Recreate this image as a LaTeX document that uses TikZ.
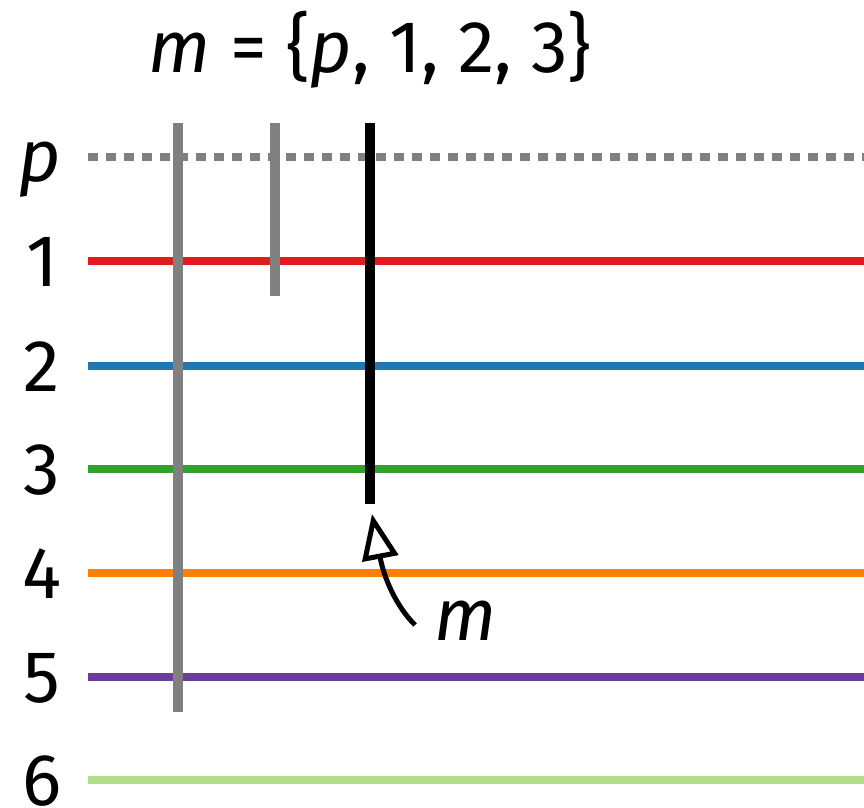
\documentclass[tikz,border=0pt]{standalone}
\usepackage{fontspec}
\setmainfont{Fira Sans}
\usetikzlibrary{arrows.meta,positioning}
\definecolor{Grey}{HTML}{808080}
\definecolor{LRed}{HTML}{E41A1C}
\definecolor{LBlue}{HTML}{1F78B4}
\definecolor{LGreen}{HTML}{33A02C}
\definecolor{LOrange}{HTML}{FF7F00}
\definecolor{LPurple}{HTML}{6A3D9A}
\definecolor{LLime}{HTML}{B2DF8A}
\tikzset{
  lvl/.style={line width=6pt},
  lbl/.style={font=\fontsize{55}{62}\selectfont,anchor=base,inner sep=0pt},
  bar/.style={line width=7.5pt,draw=Grey},
  arr/.style={-{Triangle[open,length=34pt,width=27pt]},line width=3.75pt,draw=black}
}
\begin{document}
\begin{tikzpicture}[x=0.75pt,y=-0.75pt]
  \useasboundingbox (0,0) rectangle (864,807);
  \node[lbl] (title) at (370,72) {\textit{m} = \{\textit{p}, 1, 2, 3\}};
  % level labels
  \node[lbl] (lp) at (40,181) {\textit{p}};
  \node[lbl] (l1) at (42,286) {1};
  \node[lbl] (l2) at (42,391) {2};
  \node[lbl] (l3) at (42,494) {3};
  \node[lbl] (l4) at (42,598) {4};
  \node[lbl] (l5) at (42,702) {5};
  \node[lbl] (l6) at (42,805) {6};
  % levels
  \draw[lvl,Grey,dash pattern=on 7.5pt off 6pt] (88,157) -- (864,157);
  \draw[lvl,LRed] (88,261) -- (864,261);
  \draw[lvl,LBlue] (88,366) -- (864,366);
  \draw[lvl,LGreen] (88,469) -- (864,469);
  \draw[lvl,LOrange] (88,573) -- (864,573);
  \draw[lvl,LPurple] (88,677) -- (864,677);
  \draw[lvl,LLime] (88,780) -- (864,780);
  % bars
  \draw[bar] (178,123) -- (178,712);
  \draw[bar] (275,123) -- (275,296);
  \coordinate (mtop) at (370,123);
  \coordinate (mend) at (370,504);
  \draw[bar,draw=black] (mtop) -- (mend);
  \node[lbl] (mlab) at (466,640) {\textit{m}};
  \coordinate (mtip) at (372,514);
  \draw[arr] (415,625) .. controls (396,606) and (384,578) .. (mtip);
\end{tikzpicture}
\end{document}
